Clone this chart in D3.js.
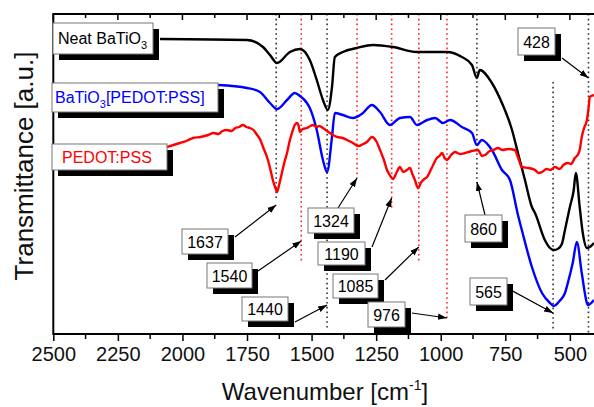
<!DOCTYPE html>
<html>
<head>
<meta charset="utf-8">
<script src="https://cdn.jsdelivr.net/npm/d3@7"></script>
<style>
  body { margin: 0; background: #fff; }
  text { font-family: Arial, "Liberation Sans", sans-serif; }
</style>
</head>
<body>
<svg width="594" height="407"></svg>
<script>
// spectra (wavenumber in cm-1, transmittance in a.u.)
var neatWn = [2087, 1750, 1688, 1661, 1634, 1584, 1545, 1507, 1480, 1456, 1437, 1421, 1410, 1379, 1325, 1263, 1185, 1092, 1030, 976, 918, 879, 860, 849, 802, 763, 724, 701, 674, 647, 635, 597, 577, 562, 547, 531, 519, 500, 485, 477, 462, 450, 434, 423, 407];
var neatT  = [29.5, 29.4, 28.7, 27.9, 27.1, 28.2, 28.5, 27.4, 25.4, 23.4, 22.4, 24.7, 27.7, 28.2, 28.6, 28.9, 28.7, 28.2, 28.2, 28.2, 27.7, 26.9, 25.6, 26.4, 25.1, 23.1, 20.4, 18.1, 15.4, 12.7, 12.1, 9.4, 8.6, 8.4, 8.5, 9.0, 10.4, 12.7, 14.4, 16.1, 12.7, 10.1, 8.6, 8.7, 9.1];

var hybridWn = [1862, 1750, 1700, 1661, 1634, 1595, 1565, 1545, 1518, 1507, 1480, 1456, 1440, 1421, 1410, 1379, 1340, 1301, 1267, 1235, 1197, 1158, 1119, 1092, 1053, 1022, 991, 964, 918, 879, 860, 841, 802, 763, 732, 701, 686, 647, 608, 577, 562, 540, 519, 508, 489, 473, 454, 434, 430, 407];
var hybridT  = [24.9, 24.6, 24.2, 23.1, 22.5, 23.4, 24.1, 23.8, 23.1, 22.6, 20.4, 17.4, 16.2, 19.7, 22.1, 21.9, 21.6, 22.1, 22.9, 22.2, 20.9, 21.6, 21.7, 20.9, 21.4, 21.6, 21.1, 21.4, 20.7, 20.1, 18.9, 19.4, 18.4, 16.4, 15.4, 11.9, 10.4, 6.7, 4.1, 3.1, 2.8, 3.3, 4.1, 5.1, 7.1, 9.2, 6.1, 3.1, 2.9, 3.4];

var pedotWn = [2060, 2035, 2010, 1985, 1959, 1930, 1900, 1880, 1860, 1845, 1828, 1810, 1795, 1780, 1766, 1752, 1739, 1725, 1711, 1700, 1688, 1669, 1660, 1650, 1640, 1634, 1625, 1615, 1605, 1595, 1585, 1576, 1565, 1557, 1550, 1545, 1535, 1518, 1505, 1495, 1480, 1470, 1456, 1440, 1417, 1400, 1380, 1363, 1340, 1320, 1300, 1286, 1266, 1250, 1235, 1220, 1208, 1195, 1185, 1170, 1158, 1145, 1131, 1119, 1110, 1100, 1088, 1075, 1063, 1053, 1035, 1015, 1005, 995, 985, 976, 960, 945, 925, 906, 880, 856, 840, 829, 810, 795, 779, 760, 740, 713, 700, 686, 660, 635, 620, 608, 590, 575, 558, 540, 525, 508, 495, 481, 470, 462, 454, 445, 434, 428, 423, 407];
var pedotT  = [18.7, 18.9, 19.1, 19.3, 19.6, 19.7, 19.9, 20.1, 20.0, 20.3, 20.4, 20.3, 20.6, 20.7, 20.9, 20.7, 20.6, 20.4, 19.9, 19.5, 18.7, 17.4, 16.5, 15.4, 14.6, 14.2, 15.0, 16.1, 17.2, 18.1, 19.3, 20.1, 20.9, 21.1, 20.8, 20.2, 20.5, 20.6, 20.8, 20.9, 20.7, 20.8, 20.6, 20.3, 19.9, 19.7, 19.6, 19.4, 19.1, 18.8, 19.0, 19.2, 19.7, 19.3, 18.4, 17.4, 16.4, 15.8, 15.5, 16.2, 16.7, 16.2, 16.4, 16.6, 16.0, 15.4, 14.6, 15.2, 15.5, 15.7, 16.6, 17.6, 17.8, 18.1, 17.6, 17.4, 17.9, 18.2, 18.0, 18.1, 18.3, 18.4, 17.8, 17.9, 18.3, 18.4, 18.6, 18.4, 18.5, 18.4, 17.6, 16.7, 16.6, 16.4, 16.1, 16.2, 16.5, 16.4, 16.7, 16.5, 16.9, 17.1, 17.0, 17.6, 17.9, 18.4, 19.7, 20.6, 21.4, 22.5, 23.7, 23.9];

var xTicks = [2500, 2250, 2000, 1750, 1500, 1250, 1000, 750, 500];

// marked bands: wavenumber, line colour
var bandWn    = [1637, 1540, 1440, 1324, 1190, 1085, 976, 860, 565, 428];
var bandColor = ["black", "red", "black", "red", "red", "red", "red", "black", "black", "black"];

var svg = d3.select("svg");
var mLeft = 53.3, mRight = 595.7, mTop = 14, mBottom = 334;

var x = d3.scaleLinear().domain([2500, 400]).range([mLeft, mRight]);
var y = d3.scaleLinear().domain([0, 32]).range([mBottom, mTop]);

var defs = svg.append("defs");
defs.append("marker")
    .attr("id", "arrow")
    .attr("viewBox", "0 0 10 10")
    .attr("refX", 10)
    .attr("refY", 5)
    .attr("markerWidth", 9)
    .attr("markerHeight", 9)
    .attr("markerUnits", "userSpaceOnUse")
    .attr("orient", "auto")
    .append("path")
    .attr("d", "M0,1.5 L10,5 L0,8.5 Z")
    .attr("fill", "black");

defs.append("clipPath").attr("id", "clip")
    .append("rect").attr("x", mLeft).attr("y", mTop).attr("width", mRight - mLeft).attr("height", mBottom - mTop);

// dotted band lines, with their vertical extent on the figure
var bandY = [[14, 200], [14, 262], [14, 328], [14, 178], [14, 210], [14, 262], [14, 320], [14, 183], [82, 330], [14, 334]];
svg.append("g").selectAll("line")
    .data(bandWn)
    .enter().append("line")
    .attr("x1", function(d) { return x(d); })
    .attr("x2", function(d) { return x(d); })
    .attr("y1", function(d, i) { return bandY[i][0]; })
    .attr("y2", function(d, i) { return bandY[i][1]; })
    .attr("stroke", function(d, i) { return bandColor[i] == "red" ? "#ff2020" : "#333"; })
    .attr("stroke-width", 1.6)
    .attr("stroke-dasharray", "1.6,3.2");

// spectra
var line = d3.line()
    .x(function(d) { return x(d[0]); })
    .y(function(d) { return y(d[1]); })
    .curve(d3.curveMonotoneX);

function zip(a, b) { return a.map(function(v, i) { return [v, b[i]]; }).reverse(); }

var series = [
    { name: "neat", pts: zip(neatWn, neatT), color: "black" },
    { name: "hybrid", pts: zip(hybridWn, hybridT), color: "#0000ff" },
    { name: "pedot", pts: zip(pedotWn, pedotT), color: "#ff0000" }
];

svg.append("g").attr("clip-path", "url(#clip)")
    .selectAll("path")
    .data(series)
    .enter().append("path")
    .attr("d", function(d) { return line(d.pts); })
    .attr("fill", "none")
    .attr("stroke", function(d) { return d.color; })
    .attr("stroke-width", 2.4)
    .attr("stroke-linejoin", "round");

// axes frame
var xAxis = d3.axisBottom(x).tickValues(xTicks).tickSize(7).tickPadding(6).tickFormat(d3.format("d"));
var gx = svg.append("g").attr("transform", "translate(0," + mBottom + ")").call(xAxis);
gx.select(".domain").attr("d", "M" + mLeft + ",0H594").attr("stroke-width", 2);
gx.selectAll(".tick line").attr("stroke-width", 1.5);
gx.selectAll(".tick text").style("font-size", "20px").attr("fill", "#111");

var minor = d3.range(2375, 400, -250);
svg.append("g").selectAll("line").data(minor).enter().append("line")
    .attr("x1", function(d) { return x(d); }).attr("x2", function(d) { return x(d); })
    .attr("y1", mBottom).attr("y2", mBottom + 5)
    .attr("stroke", "black").attr("stroke-width", 1.5);

svg.append("line").attr("x1", mLeft).attr("x2", 594).attr("y1", mTop).attr("y2", mTop)
    .attr("stroke", "black").attr("stroke-width", 2);
svg.append("g").selectAll("line").data(xTicks.concat(minor)).enter().append("line")
    .attr("x1", function(d) { return x(d); }).attr("x2", function(d) { return x(d); })
    .attr("y1", mTop).attr("y2", function(d) { return xTicks.indexOf(d) >= 0 ? mTop + 6 : mTop + 4; })
    .attr("stroke", "black").attr("stroke-width", 1.5);
svg.append("line").attr("x1", mLeft).attr("x2", mLeft).attr("y1", mTop - 1).attr("y2", mBottom + 1)
    .attr("stroke", "black").attr("stroke-width", 2);

// axis titles
var xt = svg.append("text")
    .attr("x", 325).attr("y", 400)
    .attr("text-anchor", "middle")
    .style("font-size", "24px")
    .attr("fill", "#111");
xt.append("tspan").text("Wavenumber [cm");
xt.append("tspan").attr("dy", -10).style("font-size", "14px").text("-1");
xt.append("tspan").attr("dy", 10).text("]");

svg.append("text")
    .attr("transform", "translate(33,166) rotate(-90)")
    .attr("text-anchor", "middle")
    .style("font-size", "26px")
    .attr("fill", "#111")
    .text("Transmittance [a.u.]");

// shadowed boxes
function box(bx, by, bw, bh) {
    svg.append("rect").attr("x", bx + 6).attr("y", by + 6).attr("width", bw).attr("height", bh).attr("fill", "black");
    svg.append("rect").attr("x", bx).attr("y", by).attr("width", bw).attr("height", bh)
        .attr("fill", "white").attr("stroke", "#777").attr("stroke-width", 1);
}

// series legends
box(53, 23, 100, 31);
var t1 = svg.append("text").attr("x", 58).attr("y", 44).style("font-size", "16px").attr("fill", "black");
t1.append("tspan").text("Neat BaTiO");
t1.append("tspan").attr("dy", 5).style("font-size", "11px").text("3");

box(52, 83, 166, 29);
var t2 = svg.append("text").attr("x", 55).attr("y", 103).style("font-size", "16px").attr("fill", "#0000ff");
t2.append("tspan").text("BaTiO");
t2.append("tspan").attr("dy", 5).style("font-size", "11px").text("3");
t2.append("tspan").attr("dy", -5).text("[PEDOT:PSS]");

box(52, 144, 115, 26);
svg.append("text").attr("x", 62).attr("y", 163).style("font-size", "16px").attr("fill", "#ff0000").text("PEDOT:PSS");

// band labels: box and arrow start/end (pixels)
var bandBox = [[182, 229, 46, 25], [207, 263, 45, 25], [242, 297, 46, 24], [308, 208, 46, 25], [318, 242, 47, 23],
               [333, 274, 45, 24], [368, 302, 37, 25], [465, 215, 37, 27], [470, 278, 37, 27], [518, 28, 37, 27]];
var arrowFrom = [[235, 237], [258, 271], [295, 322], [338, 208], [372, 247], [385, 280], [412, 313], [485, 215], [507, 288], [562, 58]];
var arrowToY = [205, 241, 305, 178, 198, 247, 318, 182, 313, 78];

bandWn.forEach(function(wn, i) {
    svg.append("line")
        .attr("x1", arrowFrom[i][0]).attr("y1", arrowFrom[i][1])
        .attr("x2", x(wn)).attr("y2", arrowToY[i])
        .attr("stroke", "black").attr("stroke-width", 1.2)
        .attr("marker-end", "url(#arrow)");
});
bandWn.forEach(function(wn, i) {
    var b = bandBox[i];
    box(b[0], b[1], b[2], b[3]);
    svg.append("text")
        .attr("x", b[0] + b[2] / 2).attr("y", b[1] + b[3] / 2 + 6)
        .attr("text-anchor", "middle")
        .style("font-size", "16px")
        .attr("fill", "black")
        .text(wn);
});
</script>
</body>
</html>
